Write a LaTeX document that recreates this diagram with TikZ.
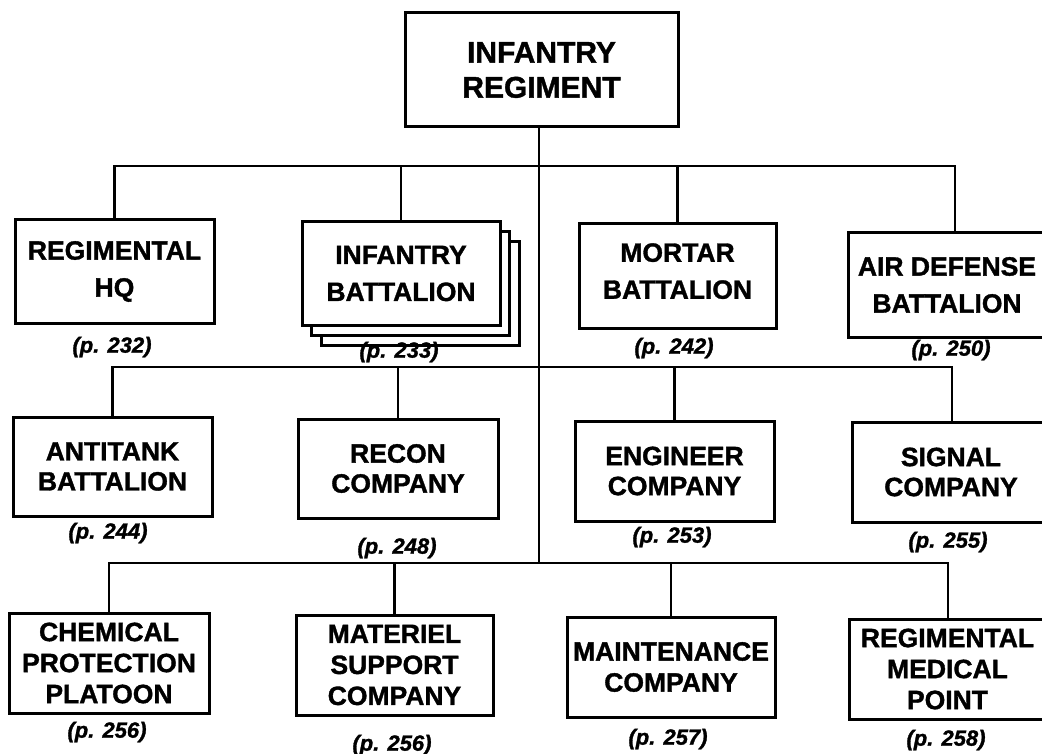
\documentclass[tikz,border=0pt]{standalone}
\usepackage{fontspec}
\setmainfont{Liberation Sans}[BoldFeatures={FakeBold=1.3},BoldItalicFeatures={FakeBold=1.3}]
\begin{document}
\begin{tikzpicture}[x=1pt,y=-1pt,
  box/.style={draw, line width=3pt, fill=white, inner sep=0pt, align=center},
  rowA/.style={box, font=\fontsize{26.5}{37}\selectfont\bfseries},
  rowB/.style={box, font=\fontsize{26.5}{30}\selectfont\bfseries},
  rowC/.style={box, font=\fontsize{26.5}{31}\selectfont\bfseries},
  topbox/.style={box, font=\fontsize{30}{35}\selectfont\bfseries},
  conn/.style={line width=2.8pt, line cap=rect},
  pg/.style={font=\fontsize{22}{22}\selectfont\bfseries\itshape, inner sep=0pt}]
\useasboundingbox (0,0) rectangle (1042,754);
\clip (0,0) rectangle (1042,754);
\fill[white] (0,0) rectangle (1042,754);

% coordinates of the bars
\coordinate (b1R) at (955,166);
\coordinate (b2R) at (952,367);
\coordinate (b3R) at (948,563);
\coordinate (trunk) at (539,563);

% top
\node[topbox, minimum width=273pt, minimum height=114pt] (top) at (541.5,70) {INFANTRY\\REGIMENT};

% row 1
\node[rowA, minimum width=199pt, minimum height=103pt] (rhq) at (114.5,271.5) {REGIMENTAL\\HQ};
\node[box, minimum width=198pt, minimum height=103pt] (inf3) at (420,293.5) {};
\node[box, minimum width=198pt, minimum height=103pt] (inf2) at (410,283.5) {};
\node[rowA, minimum width=198pt, minimum height=103pt] (inf) at (401,273.5) {INFANTRY\\BATTALION};
\node[rowA, minimum width=197pt, minimum height=104pt, text depth=10pt] (mor) at (677.5,276) {MORTAR\\BATTALION};
\node[rowA, minimum width=198pt, minimum height=104pt] (ad) at (947,285) {AIR DEFENSE\\BATTALION};

% row 2
\node[rowB, minimum width=199pt, minimum height=99pt] (at) at (112.5,466.5) {ANTITANK\\BATTALION};
\node[rowB, minimum width=200pt, minimum height=99pt] (rec) at (398,468.5) {RECON\\COMPANY};
\node[rowB, minimum width=199pt, minimum height=100pt] (eng) at (674.5,471) {ENGINEER\\COMPANY};
\node[rowB, minimum width=198pt, minimum height=100pt] (sig) at (951,472) {SIGNAL\\COMPANY};

% row 3
\node[rowC, minimum width=200pt, minimum height=100pt] (chem) at (109,663) {CHEMICAL\\PROTECTION\\PLATOON};
\node[rowC, minimum width=197pt, minimum height=100pt] (mat) at (394.5,665) {MATERIEL\\SUPPORT\\COMPANY};
\node[rowC, minimum width=208pt, minimum height=100pt] (mnt) at (671,667) {MAINTENANCE\\COMPANY};
\node[rowC, minimum width=197pt, minimum height=100pt] (med) at (947.5,669) {REGIMENTAL\\MEDICAL\\POINT};

% connectors
\draw[conn] (top.south -| trunk) -- (trunk);
\draw[conn] (rhq.north) |- (b1R) -- (ad.north -| b1R);
\draw[conn] (inf.north) -- (inf.north |- b1R);
\draw[conn] (mor.north) -- (mor.north |- b1R);
\draw[conn] (at.north) |- (b2R) -- (sig.north -| b2R);
\draw[conn] (rec.north) -- (rec.north |- b2R);
\draw[conn] (eng.north) -- (eng.north |- b2R);
\draw[conn] (chem.north) |- (b3R) -- (med.north -| b3R);
\draw[conn] (mat.north) -- (mat.north |- b3R);
\draw[conn] (mnt.north) -- (mnt.north |- b3R);

% page labels
\node[pg] (p232) at (112,347) {(p. 232)};
\node[pg] (p233) at (399,352) {(p. 233)};
\node[pg] (p242) at (674,348) {(p. 242)};
\node[pg] (p250) at (951,350) {(p. 250)};
\node[pg] (p244) at (108,533) {(p. 244)};
\node[pg] (p248) at (397,548) {(p. 248)};
\node[pg] (p253) at (672,537) {(p. 253)};
\node[pg] (p255) at (948,542) {(p. 255)};
\node[pg] (p256a) at (107,732) {(p. 256)};
\node[pg] (p256b) at (392,745) {(p. 256)};
\node[pg] (p257) at (668,739) {(p. 257)};
\node[pg] (p258) at (946,740) {(p. 258)};
\end{tikzpicture}
\end{document}
